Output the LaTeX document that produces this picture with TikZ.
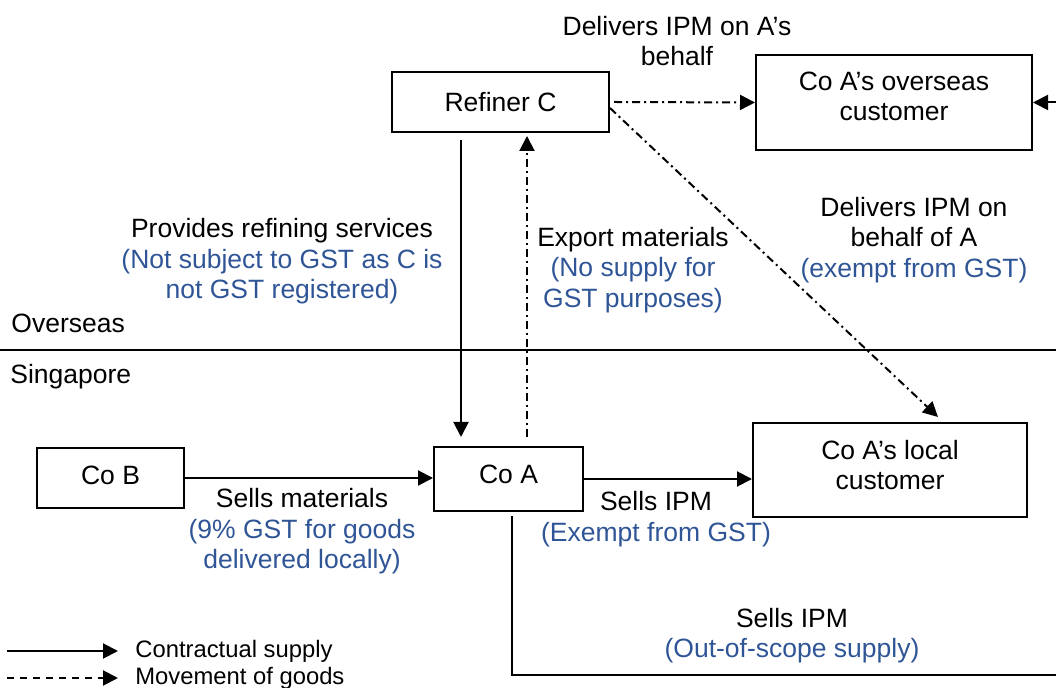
\documentclass[tikz,border=0pt]{standalone}
\usepackage{fontspec}
\setmainfont{Liberation Sans}
\usetikzlibrary{arrows.meta,calc}
\definecolor{gstblue}{RGB}{47,85,151}
\newcommand{\gst}[1]{\textcolor{gstblue}{#1}}

\begin{document}
\begin{tikzpicture}[x=0.5pt,y=-0.5pt, font=\fontsize{13.25}{15.25}\selectfont,
  box/.style={draw, line width=1pt, align=center, inner sep=0pt},
  supply/.style={line width=1pt, -{Triangle[length=7.5pt,width=7.5pt]}},
  goods/.style={supply, dash pattern=on 4pt off 2pt on 1pt off 2pt},
  lbl/.style={align=center, inner sep=0pt}]
  \useasboundingbox (0,0) rectangle (1056,688);

  % Border between overseas and Singapore
  \draw[line width=1pt] (0,350) -- (1056,350);
  \node[lbl, anchor=west] (overseaslbl) at (11,323) {Overseas};
  \node[lbl, anchor=west] (sglbl) at (10,377) {Singapore};

  % Parties
  \node[box, minimum width=108.5pt, minimum height=30pt] (refiner) at (500.5,102) {Refiner C};
  \node[box, minimum width=138pt, minimum height=47.5pt, text depth=6pt] (overseas) at (894,102.5) {Co A’s overseas\\customer};
  \node[box, minimum width=137pt, minimum height=47pt, text depth=5pt] (local) at (890,470) {Co A’s local\\customer};
  \node[box, minimum width=73.5pt, minimum height=30pt, text depth=3pt] (cob) at (110.5,478) {Co B};
  \node[box, minimum width=74.5pt, minimum height=32pt, text depth=5pt] (coa) at (508.5,479) {Co A};

  % Supplies and goods
  \draw[supply] ([xshift=-19.75pt,yshift=-3.5pt]refiner.south) -- ([xshift=-23.75pt,yshift=4.5pt]coa.north);
  \draw[goods] ([xshift=9.25pt,yshift=4.5pt]coa.north) -- ([xshift=13.25pt,yshift=-1.5pt]refiner.south);
  \draw[goods] ([xshift=2pt]refiner.east) -- (overseas.west);
  \draw[goods] ([yshift=-3pt]refiner.east) -- ([xshift=24pt,yshift=2.5pt]local.north);
  \draw[supply] (cob.east) -- (coa.west |- cob.east);
  \draw[supply] (coa.east) -- (local.west |- coa.east);
  \coordinate (corner) at (1080,675);
  \draw[supply] ([xshift=1.75pt,yshift=-2pt]coa.south) |- (corner) |- (overseas.east);

  % Labels
  \node[lbl] (deliverlbl) at (677,41) {Delivers IPM on A’s\\behalf};
  \node[lbl] (refinelbl) at (282,261.5) {Provides refining services\\\gst{(Not subject to GST as C is}\\\gst{not GST registered)}};
  \node[lbl] (exportlbl) at (633,270) {Export materials\\\gst{(No supply for}\\\gst{GST purposes)}};
  \node[lbl] (behalflbl) at (914,240) {Delivers IPM on\\behalf of A\\\gst{(exempt from GST)}};
  \node[lbl] (materialslbl) at (302,531.5) {Sells materials\\\gst{(9\% GST for goods}\\\gst{delivered locally)}};
  \node[lbl] (localsalelbl) at (656,519) {Sells IPM\\\gst{(Exempt from GST)}};
  \node[lbl] (scopelbl) at (792,635.5) {Sells IPM\\\gst{(Out-of-scope supply)}};

  % Legend
  \node[lbl, anchor=west, font=\fontsize{11.9}{13.5}\selectfont] (leg1) at (135,651) {Contractual supply};
  \node[lbl, anchor=west, font=\fontsize{11.9}{13.5}\selectfont] (leg2) at (135,678) {Movement of goods};
  \draw[supply] ([xshift=-64pt]leg1.west) -- ([xshift=-8.5pt]leg1.west);
  \draw[supply, dash pattern=on 3.5pt off 3pt] ([xshift=-64pt]leg2.west) -- ([xshift=-8.5pt]leg2.west);
\end{tikzpicture}
\end{document}
